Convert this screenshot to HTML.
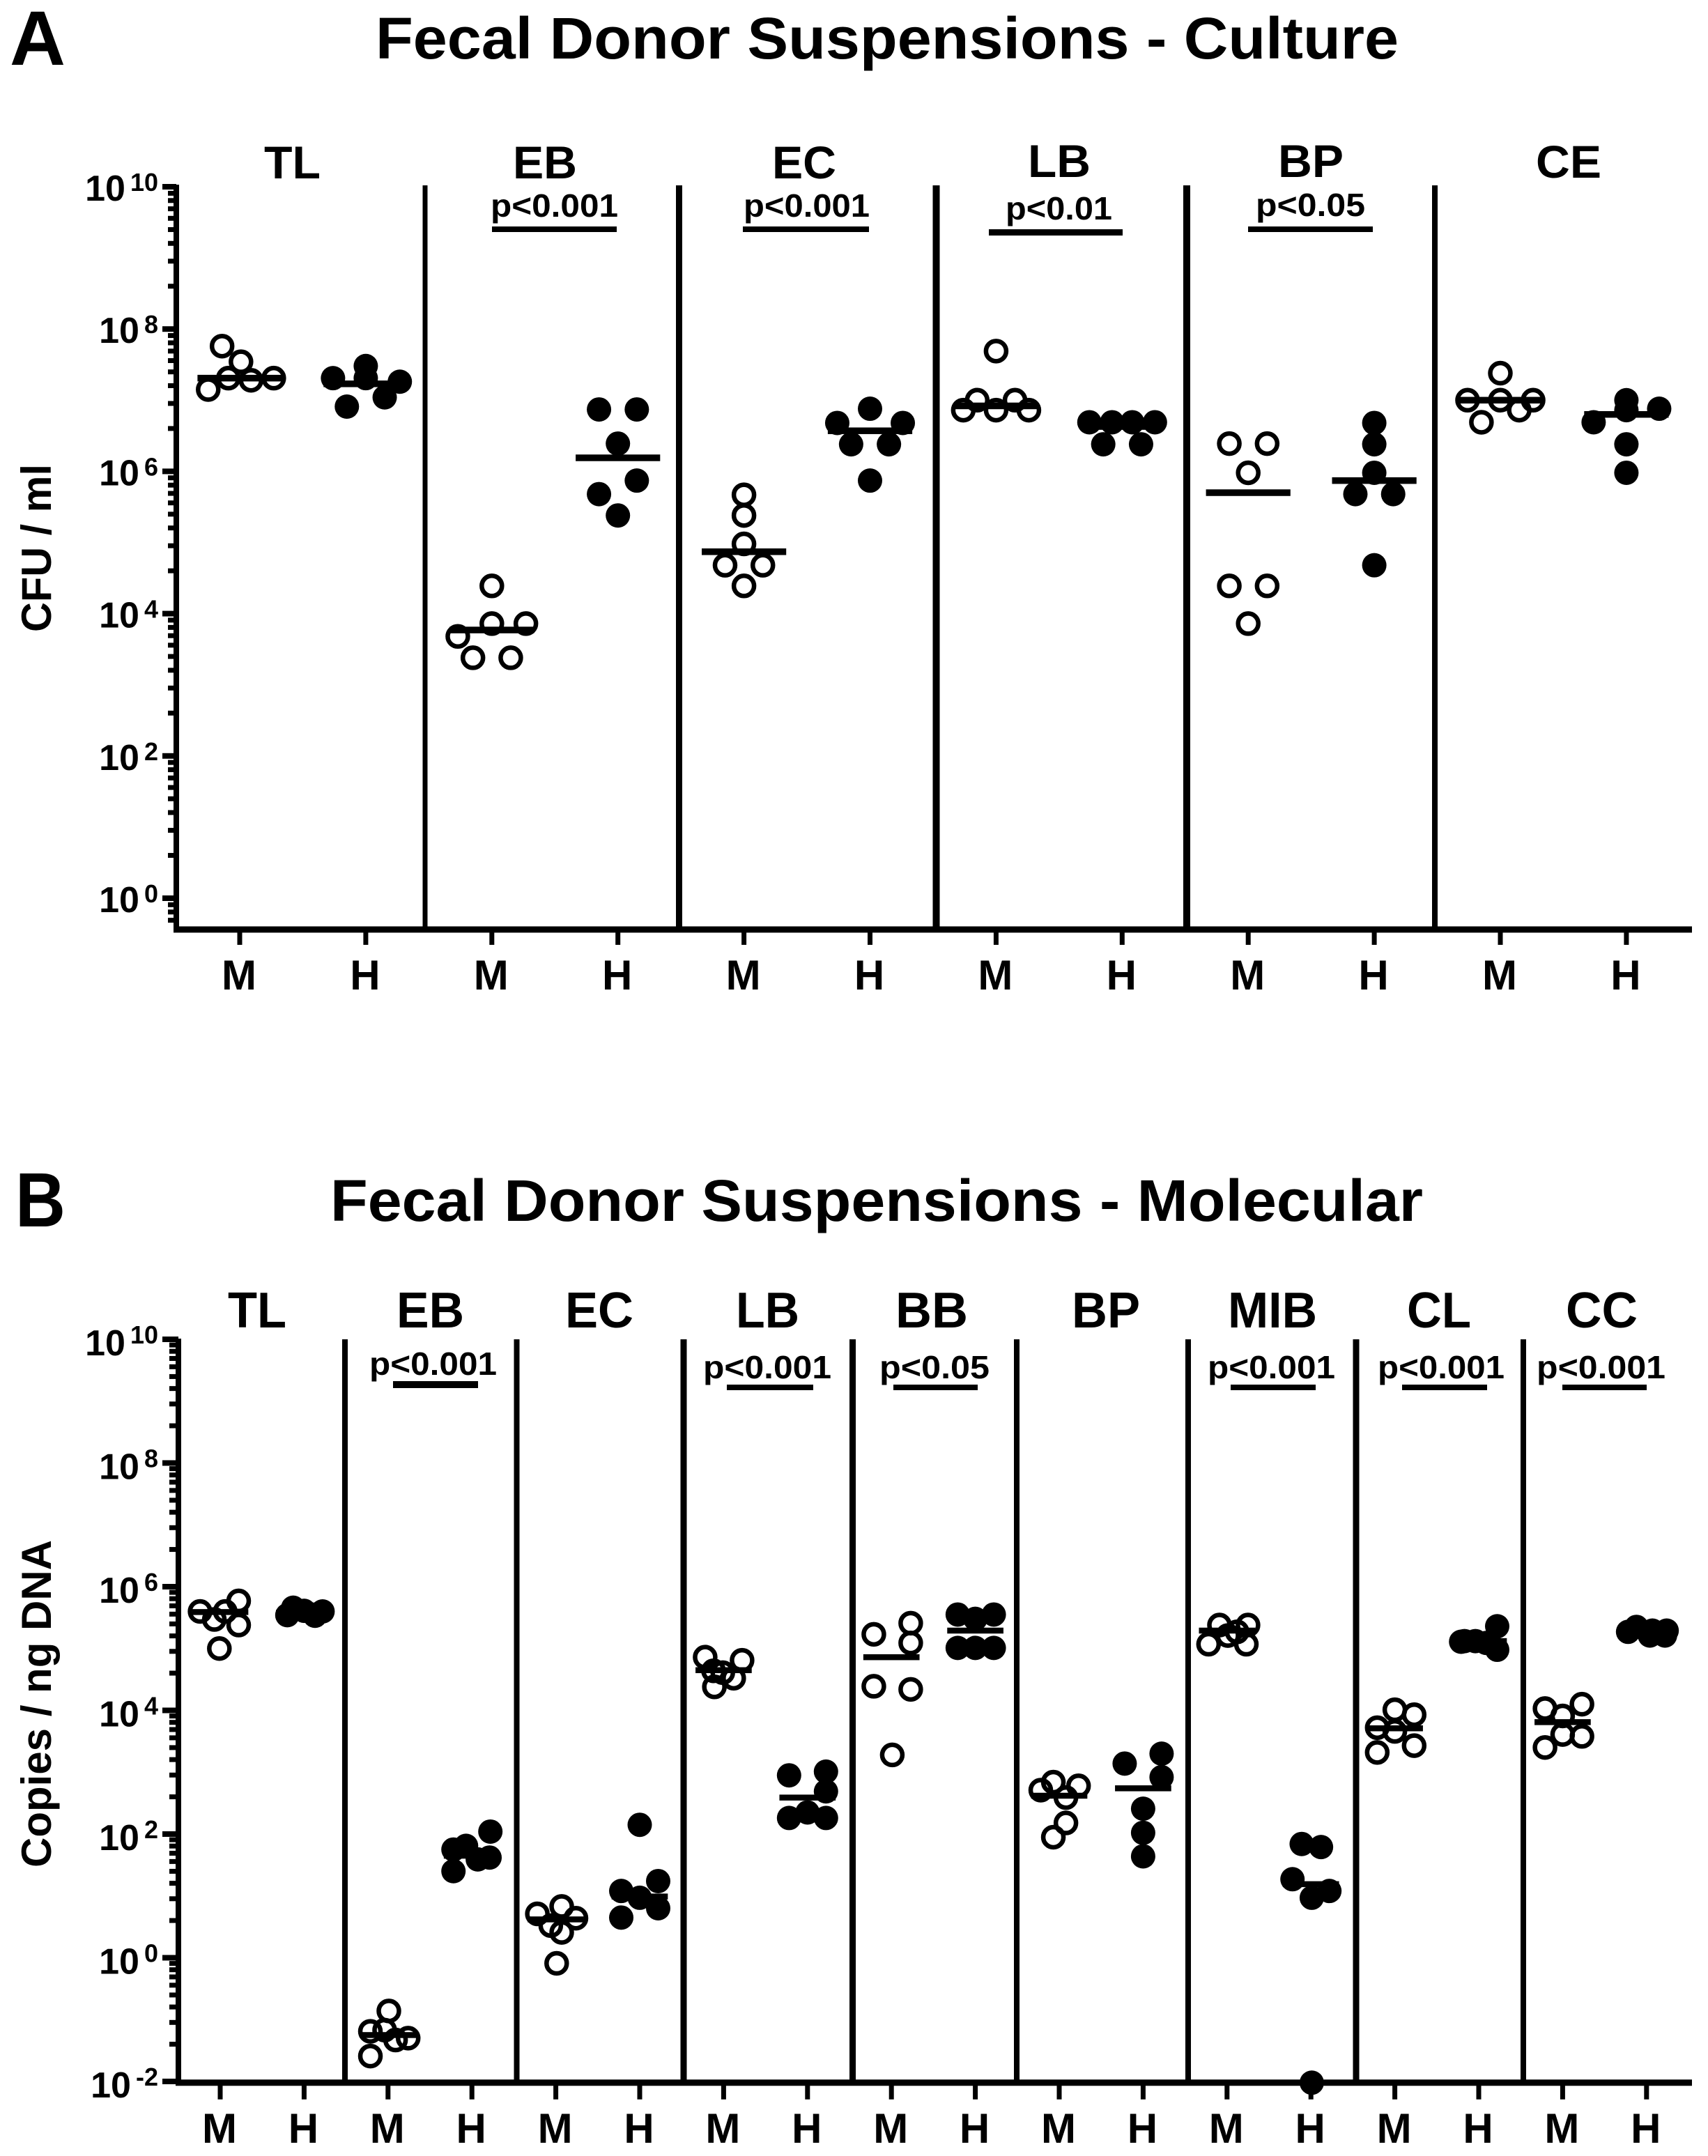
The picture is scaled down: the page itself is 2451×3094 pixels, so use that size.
<!DOCTYPE html>
<html lang="en">
<head>
<meta charset="utf-8">
<title>Fecal Donor Suspensions</title>
<style>
html,body{margin:0;padding:0;background:#fff;}
svg{display:block;}
text{font-family:"Liberation Sans",Arial,sans-serif;font-weight:bold;fill:#000;}
</style>
</head>
<body>
<svg id="chart" xmlns="http://www.w3.org/2000/svg" width="2451" height="3094" viewBox="0 0 2451 3094">
<rect x="0" y="0" width="2451" height="3094" fill="#fff"/>

<text x="14" y="93" font-size="110" textLength="80" lengthAdjust="spacingAndGlyphs">A</text>
<text x="539" y="84" font-size="84" textLength="1468" lengthAdjust="spacingAndGlyphs">Fecal Donor Suspensions - Culture</text>
<text x="22" y="1760" font-size="110" textLength="72" lengthAdjust="spacingAndGlyphs">B</text>
<text x="474" y="1752" font-size="84" textLength="1568" lengthAdjust="spacingAndGlyphs">Fecal Donor Suspensions - Molecular</text>

<text transform="translate(73,907) rotate(-90)" font-size="60" textLength="241" lengthAdjust="spacingAndGlyphs">CFU / ml</text>
<text transform="translate(73,2680) rotate(-90)" font-size="60" textLength="470" lengthAdjust="spacingAndGlyphs">Copies / ng DNA</text>

<g font-size="66">
<text x="379" y="256" textLength="81" lengthAdjust="spacingAndGlyphs">TL</text>
<text x="736" y="256" textLength="92" lengthAdjust="spacingAndGlyphs">EB</text>
<text x="1108" y="256" textLength="92" lengthAdjust="spacingAndGlyphs">EC</text>
<text x="1475" y="254" textLength="90" lengthAdjust="spacingAndGlyphs">LB</text>
<text x="1834" y="254" textLength="94" lengthAdjust="spacingAndGlyphs">BP</text>
<text x="2204" y="255" textLength="94" lengthAdjust="spacingAndGlyphs">CE</text>
</g>

<g font-size="46">
<text x="704" y="311" textLength="183" lengthAdjust="spacingAndGlyphs">p&lt;0.001</text>
<rect x="706" y="325" width="179" height="8"/>
<text x="1067" y="311" textLength="181" lengthAdjust="spacingAndGlyphs">p&lt;0.001</text>
<rect x="1066" y="325" width="181" height="8"/>
<text x="1443" y="315" textLength="153" lengthAdjust="spacingAndGlyphs">p&lt;0.01</text>
<rect x="1419" y="329" width="192" height="9"/>
<text x="1802" y="310" textLength="157" lengthAdjust="spacingAndGlyphs">p&lt;0.05</text>
<rect x="1791" y="325" width="179" height="8"/>
</g>

<g fill="#000">
<rect x="606.5" y="266" width="7" height="1068"/>
<rect x="970" y="266" width="9" height="1068"/>
<rect x="1338.5" y="266" width="10" height="1068"/>
<rect x="1698" y="266" width="10" height="1068"/>
<rect x="2055" y="266" width="8" height="1068"/>
</g>

<g font-size="72">
<text x="327" y="1905" textLength="84" lengthAdjust="spacingAndGlyphs">TL</text>
<text x="569" y="1905" textLength="97" lengthAdjust="spacingAndGlyphs">EB</text>
<text x="811" y="1905" textLength="98" lengthAdjust="spacingAndGlyphs">EC</text>
<text x="1056" y="1905" textLength="91" lengthAdjust="spacingAndGlyphs">LB</text>
<text x="1285" y="1905" textLength="104" lengthAdjust="spacingAndGlyphs">BB</text>
<text x="1538" y="1905" textLength="98" lengthAdjust="spacingAndGlyphs">BP</text>
<text x="1762" y="1905" textLength="128" lengthAdjust="spacingAndGlyphs">MIB</text>
<text x="2019" y="1905" textLength="92" lengthAdjust="spacingAndGlyphs">CL</text>
<text x="2247" y="1905" textLength="103" lengthAdjust="spacingAndGlyphs">CC</text>
</g>

<g font-size="46">
<text x="530" y="1973" textLength="183" lengthAdjust="spacingAndGlyphs">p&lt;0.001</text>
<rect x="564" y="1982" width="122" height="10"/>
<text x="1009" y="1978" textLength="184" lengthAdjust="spacingAndGlyphs">p&lt;0.001</text>
<rect x="1043" y="1987" width="124" height="8"/>
<text x="1262" y="1978" textLength="158" lengthAdjust="spacingAndGlyphs">p&lt;0.05</text>
<rect x="1282" y="1987" width="121" height="8"/>
<text x="1733" y="1978" textLength="183" lengthAdjust="spacingAndGlyphs">p&lt;0.001</text>
<rect x="1766" y="1987" width="122" height="8"/>
<text x="1977" y="1978" textLength="182" lengthAdjust="spacingAndGlyphs">p&lt;0.001</text>
<rect x="2012" y="1987" width="122" height="8"/>
<text x="2205" y="1978" textLength="185" lengthAdjust="spacingAndGlyphs">p&lt;0.001</text>
<rect x="2242" y="1987" width="121" height="8"/>
</g>

<g fill="#000">
<rect x="491" y="1922" width="8" height="1066"/>
<rect x="737.5" y="1922" width="8" height="1066"/>
<rect x="976.5" y="1922" width="9" height="1066"/>
<rect x="1219" y="1922" width="9" height="1066"/>
<rect x="1455" y="1922" width="8" height="1066"/>
<rect x="1701" y="1922" width="8" height="1066"/>
<rect x="1941.5" y="1922" width="9" height="1066"/>
<rect x="2182" y="1922" width="8" height="1066"/>
</g>

<g id="panelA"></g>
<g id="panelB"></g>
</svg>

<script>
// ---------- Panel A data (log10 CFU/ml) ----------
const categoriesA = ['TL','EB','EC','LB','BP','CE'];
const tickExponentsA = [10,8,6,4,2,0];
const valuesAM = [
  [7.76,7.54,7.15,7.31,7.28,7.31],
  [4.39,3.86,3.86,3.68,3.38,3.38],
  [5.67,5.38,4.98,4.68,4.68,4.39],
  [7.69,7.00,7.00,6.86,6.86,6.86],
  [6.39,6.39,5.98,4.39,4.39,3.86],
  [7.38,7.00,7.00,7.00,6.86,6.69]
];
const valuesAH = [
  [7.31,7.48,7.31,7.26,6.91,7.04],
  [6.87,6.87,6.39,5.87,5.68,5.38],
  [6.68,6.88,6.68,6.38,6.38,5.87],
  [6.69,6.69,6.69,6.69,6.38,6.38],
  [6.68,6.38,5.98,5.68,5.68,4.68],
  [7.00,6.86,6.88,6.69,6.38,5.98]
];
const meansAM = [7.31,3.77,4.87,6.92,5.70,7.00];
const meansAH = [7.23,6.19,6.57,6.63,5.87,6.80];
// horizontal scatter of each point, as a fraction of one category slot
const scatterAM = [
  [-.14,.01,-.25,-.09,.09,.27],
  [0,0,.27,-.27,-.15,.15],
  [0,0,0,-.15,.15,0],
  [0,-.15,.15,-.26,0,.26],
  [-.15,.15,0,-.15,.15,0],
  [0,-.26,0,.26,.15,-.15]
];
const scatterAH = [
  [-.26,0,0,.27,-.15,.15],
  [-.15,.15,0,.15,-.15,0],
  [-.26,0,.26,-.15,.15,0],
  [-.26,-.08,.08,.26,-.15,.15],
  [0,0,0,-.15,.15,0],
  [0,0,.26,-.26,0,0]
];

// ---------- Panel B data (log10 copies/ng DNA) ----------
const categoriesB = ['TL','EB','EC','LB','BB','BP','MIB','CL','CC'];
const tickExponentsB = [10,8,6,4,2,0,-2];
const valuesBM = [
  [5.60,5.77,5.47,5.60,5.38,5.00],
  [-.86,-1.19,-1.17,-1.33,-1.30,-1.59],
  [.83,.71,.64,.52,.41,-.09],
  [4.86,4.81,4.64,4.52,4.38,4.61],
  [5.23,5.41,5.09,4.39,4.34,3.28],
  [2.84,2.71,2.78,2.59,2.18,1.95],
  [5.38,5.38,5.27,5.07,5.21,5.07],
  [4.01,3.93,3.72,3.66,3.43,3.32],
  [4.10,4.03,3.91,3.61,3.58,3.40]
];
const valuesBH = [
  [5.66,5.61,5.54,5.55,5.60,5.53],
  [2.04,1.81,1.75,1.59,1.62,1.40],
  [2.15,1.24,1.08,.97,.80,.65],
  [2.95,3.01,2.69,2.26,2.26,2.35],
  [5.55,5.55,5.48,5.01,5.01,5.01],
  [3.30,2.92,3.14,2.41,2.02,1.64],
  [1.84,1.79,1.27,1.08,.97,-2.02],
  [5.36,5.11,5.12,5.09,4.98,5.12],
  [5.35,5.29,5.29,5.27,5.21,5.21]
];
const meansBM = [5.59,-1.25,.62,4.65,4.86,2.62,5.29,3.71,3.81];
const meansBH = [5.58,1.65,.99,2.59,5.29,2.74,1.19,5.12,5.27];
const scatterBM = [
  [-.24,.22,-.07,.06,.22,-.01],
  [.01,-.21,-.04,.09,.24,-.21],
  [.07,-.22,.24,-.06,.07,.01],
  [-.22,.22,-.12,.12,-.11,-.01],
  [-.21,.23,.23,-.21,.23,.01],
  [-.07,-.22,.23,.08,.08,-.07],
  [-.09,.25,.12,-.22,.01,.23],
  [0,.23,-.21,0,.23,-.21],
  [.23,-.21,0,0,.23,-.21]
];
const scatterBH = [
  [-.13,0,-.2,.13,.22,.13],
  [.22,-.07,-.22,.07,.21,-.22],
  [0,.22,-.22,0,.22,-.22],
  [-.22,.22,.22,-.22,.22,0],
  [-.21,.22,0,-.21,.22,0],
  [.22,.22,-.22,0,0,0],
  [-.11,.12,-.22,.22,.01,.01],
  [.22,-.21,-.04,.09,.22,-.17],
  [-.12,.07,.24,-.22,.04,.22]
];

const groupLabels = ['M','H'];
const SVGNS = 'http://www.w3.org/2000/svg';

function mk(parent, tag, attrs, txt) {
  const el = document.createElementNS(SVGNS, tag);
  for (const k in attrs) el.setAttribute(k, attrs[k]);
  if (txt !== undefined) el.textContent = txt;
  parent.appendChild(el);
  return el;
}

function drawPanel(root, cfg) {
  const yS = v => cfg.y0 - cfg.perDecade * v;
  const xS = i => cfg.x0 + i * cfg.step;
  const axisBottom = yS(cfg.logMin);

  // y axis line
  const yAxis = mk(root, 'rect', {x: cfg.axisX - 4, y: cfg.axisTop, width: 8, height: axisBottom - cfg.axisTop + 4});
  
  

  // x axis line
  const xAxis = mk(root, 'rect', {x: cfg.axisX - 4, y: axisBottom - 4.5, width: 2428 - cfg.axisX + 4, height: 9});
  
  

  // y ticks & labels
  cfg.exponents.forEach(function (e) {
    const ty = yS(e);
    const major = mk(root, 'rect', {x: 233, y: ty - 4, width: cfg.axisX - 233, height: 8});
    
    

    const sup = mk(root, 'text', {x: 227, y: ty + 6, 'font-size': 36, 'text-anchor': 'end'}, String(e));
    
    
    const w = sup.getComputedTextLength();

    const base = mk(root, 'text', {x: 227 - w - 7, y: ty + cfg.labelDy, 'font-size': 52, 'text-anchor': 'end'}, '10');
    
    

    // minor ticks: eight log-spaced marks across the two decades below each major tick
    [2,3,4,5,6,7,8,9].forEach(function (m) {
      const v = e - 2 + 2 * Math.log10(m);
      if (v < cfg.logMin) return;
      const minor = mk(root, 'rect', {x: cfg.minorX, y: yS(v) - 3.5, width: cfg.axisX - cfg.minorX, height: 7});
      
      
    });
  });

  // categories
  cfg.categories.forEach(function (cat, ci) {
    groupLabels.forEach(function (lab, gi) {
      const cx = xS(ci * 2 + gi);

      const tick = mk(root, 'rect', {x: cx - 3.5, y: axisBottom, width: 7, height: cfg.tickLen});
      
      

      const label = mk(root, 'text', {x: cx - 1, y: cfg.xLabelY, 'font-size': 60, 'text-anchor': 'middle'}, lab);
      
      

      const vals = (gi === 0 ? cfg.valuesM : cfg.valuesH)[ci];
      const scat = (gi === 0 ? cfg.scatterM : cfg.scatterH)[ci];
      const mean = (gi === 0 ? cfg.meansM : cfg.meansH)[ci];

      vals.forEach(function (v, pi) {
        const attrs = gi === 0
          ? {cx: cx + scat[pi] * cfg.step, cy: yS(v), r: 14.5, fill: 'none', stroke: '#000', 'stroke-width': 6.5}
          : {cx: cx + scat[pi] * cfg.step, cy: yS(v), r: 17.5, fill: '#000'};
        const pt = mk(root, 'circle', attrs);
        
        
      });

      const halfW = cfg.step * 0.335;
      const line = mk(root, 'rect', {x: cx - halfW, y: yS(mean) - cfg.meanThick / 2, width: 2 * halfW, height: cfg.meanThick});
      
      
    });
  });
}

drawPanel(document.getElementById('panelA'), {
  categories: categoriesA, exponents: tickExponentsA,
  valuesM: valuesAM, valuesH: valuesAH, meansM: meansAM, meansH: meansAH,
  scatterM: scatterAM, scatterH: scatterAH,
  y0: 1289, perDecade: 102.1, logMin: -0.44, x0: 344, step: 180.9,
  axisX: 253, axisTop: 265, minorX: 241, tickLen: 22, xLabelY: 1420, labelDy: 20, meanThick: 9.5
});

drawPanel(document.getElementById('panelB'), {
  categories: categoriesB, exponents: tickExponentsB,
  valuesM: valuesBM, valuesH: valuesBH, meansM: meansBM, meansH: meansBH,
  scatterM: scatterBM, scatterH: scatterBH,
  y0: 2809.5, perDecade: 88.75, logMin: -2.02, x0: 316, step: 120.4,
  axisX: 256, axisTop: 1921, minorX: 243, tickLen: 24, xLabelY: 3075, labelDy: 23, meanThick: 8.5
});
</script>
</body>
</html>
